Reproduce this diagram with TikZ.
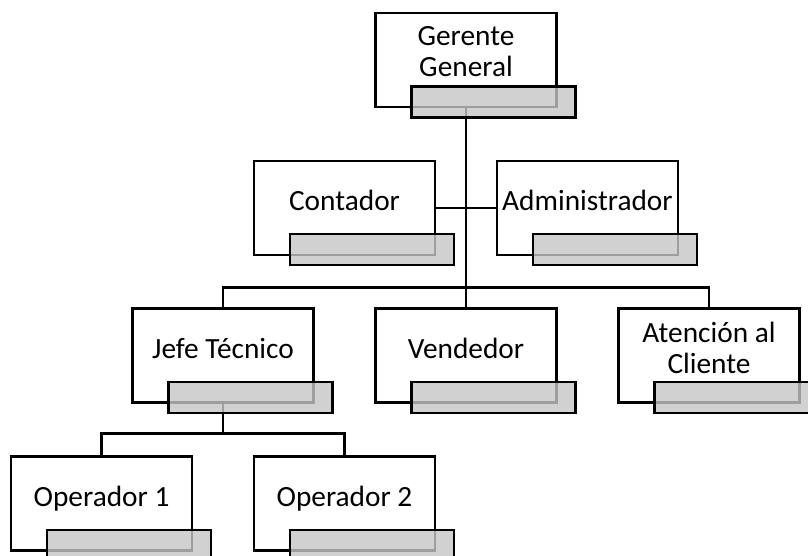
\documentclass[tikz,border=0pt]{standalone}
\usepackage{fontspec}
\setmainfont{Carlito}
\usetikzlibrary{positioning}

\tikzset{
  caja/.style={draw, line width=1.8pt, fill=white, minimum width=135.75pt, minimum height=70.5pt, inner sep=0pt, outer sep=0pt},
  texto/.style={align=center, inner sep=0pt, font=\fontsize{22pt}{23.25pt}\selectfont},
  barra/.style={draw, line width=1.8pt, fill=gray!45, fill opacity=0.8},
  linea/.style={line width=1.8pt}
}

\begin{document}
\begin{tikzpicture}[x=0.75pt, y=-0.75pt, on grid]
    \clip (0,0) rectangle (808,556);
    % Nivel 1
    \node[caja] (ger) at (466,60) {};
    % Nivel 2
    \node[caja] (cont) [below left=110.8pt and 91.1pt of ger] {};
    \node[caja] (adm) [below right=110.8pt and 91.1pt of ger] {};
    % Nivel 3
    \node[caja] (vend) [below=221.6pt of ger] {};
    \node[caja] (jefe) [left=182.25pt of vend] {};
    \node[caja] (aten) [right=182.25pt of vend] {};
    % Nivel 4
    \node[caja] (op1) [below left=111pt and 91.1pt of jefe] {};
    \node[caja] (op2) [below right=111pt and 91.1pt of jefe] {};

    % Textos
    \node[texto] (gerT) at ([yshift=6pt]ger.center) {Gerente\\General};
    \node[texto, anchor=base] (contT) at ([yshift=-2.25pt]cont.center) {Contador};
    \node[texto, anchor=base] (admT) at ([yshift=-2.25pt]adm.center) {Administrador};
    \node[texto, anchor=base] (jefeT) at ([yshift=-2.25pt]jefe.center) {Jefe Técnico};
    \node[texto, anchor=base] (vendT) at ([yshift=-2.25pt]vend.center) {Vendedor};
    \node[texto] (atenT) at ([yshift=6pt]aten.center) {Atención al\\Cliente};
    \node[texto, anchor=base] (op1T) at ([yshift=-2.25pt]op1.center) {Operador 1};
    \node[texto, anchor=base] (op2T) at ([yshift=-2.25pt]op2.center) {Operador 2};

    % Conectores
    \coordinate (bus) at ([yshift=15.75pt]vend.north);
    \coordinate (jbus) at ([yshift=-23.25pt]jefe.south);
    \draw[linea] (ger.south) -- (vend.north);
    \draw[linea] (cont.east) -- (adm.west);
    \draw[linea] (jefe.north) |- (bus) -| (aten.north);
    \draw[linea] (jefe.south) -- (jbus);
    \draw[linea] (op1.north) |- (jbus) -| (op2.north);

    % Barras grises
    \foreach \n in {ger,cont,adm,jefe,vend,aten,op1,op2}
        \draw[barra] ([shift={(36,-20.5)}]\n.south west) rectangle ([shift={(200,10.5)}]\n.south west);
\end{tikzpicture}
\end{document}
